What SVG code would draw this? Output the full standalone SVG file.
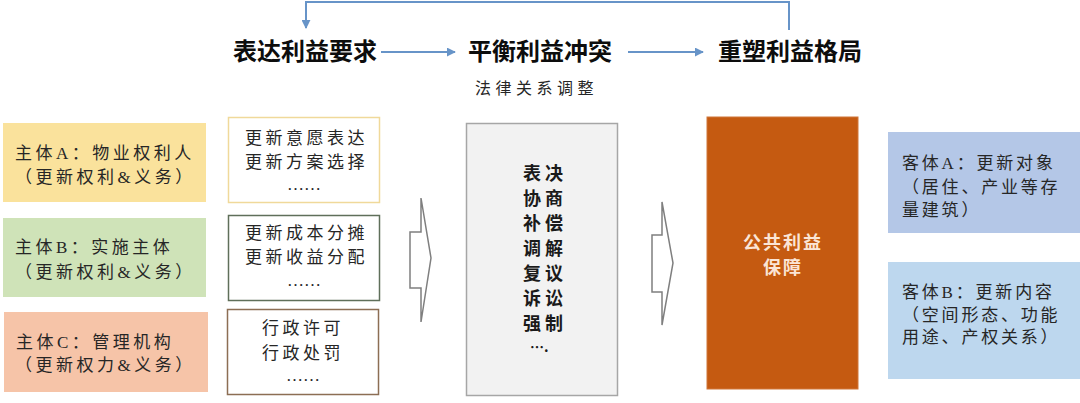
<svg xmlns="http://www.w3.org/2000/svg" width="1080" height="403" viewBox="0 0 1080 403">
<defs>
<style>
.t{font-family:"Liberation Serif","Noto Sans CJK SC",serif;font-size:17px;fill:#262626;letter-spacing:3.5px}
.r{letter-spacing:2.8px}
.h{font-family:"Noto Sans CJK SC","Liberation Sans",sans-serif;font-size:24px;font-weight:bold;fill:#0d0d0d}
.c{font-family:"Noto Sans CJK SC","Liberation Serif",serif;font-size:18px;font-weight:bold;fill:#1a1a1a;letter-spacing:4px}
.conn{fill:none;stroke:#6794c8;stroke-width:2}
.blk{fill:#ffffff;stroke:#7f7f7f;stroke-width:1.5}
</style>
<marker id="ah" viewBox="0 0 10 10" refX="9" refY="5" markerWidth="4.5" markerHeight="4.5" orient="auto" markerUnits="strokeWidth">
<path d="M0,0 L10,5 L0,10 z" fill="#6794c8"/>
</marker>
</defs>
<rect width="1080" height="403" fill="#ffffff"/>

<g id="connectors">
<path class="conn" d="M789,30 L789,2 L306,2 L306,28" marker-end="url(#ah)"/>
<path class="conn" d="M381,52 L455,52" marker-end="url(#ah)"/>
<path class="conn" d="M628,52 L703,52" marker-end="url(#ah)"/>
<polygon id="blockArrow1" class="blk" points="421,198 431,258 421,322 421,288 410,288 410,232 421,232"/>
<polygon id="blockArrow2" class="blk" points="662,202 673,263 662,325 662,292 652,292 652,235 662,235"/>
</g>

<g id="stage1"><text class="h" x="233" y="60">表达利益要求</text></g>
<g id="stage2"><text class="h" x="468" y="60">平衡利益冲突</text>
<text class="t" x="475" y="94" style="font-size:16px;letter-spacing:4.5px">法律关系调整</text></g>
<g id="stage3"><text class="h" x="718" y="60">重塑利益格局</text></g>

<g id="subjectA">
<rect x="3" y="123" width="203" height="79" fill="#fae29c"/>
<text class="t" x="15" y="159">主体A：物业权利人</text>
<text class="t" x="15" y="183">（更新权利&amp;义务）</text>
</g>
<g id="subjectB">
<rect x="3" y="218" width="203" height="79" fill="#cfe3b8"/>
<text class="t" x="15" y="253">主体B：实施主体</text>
<text class="t" x="15" y="278">（更新权利&amp;义务）</text>
</g>
<g id="subjectC">
<rect x="4" y="312" width="204" height="80" fill="#f6c4a8"/>
<text class="t" x="16" y="348">主体C：管理机构</text>
<text class="t" x="15" y="371">（更新权力&amp;义务）</text>
</g>

<g id="itemsA">
<rect x="228.5" y="117.5" width="151" height="85" fill="#ffffff" stroke="#f0d99a" stroke-width="1.5"/>
<text class="t" x="245" y="144">更新意愿表达</text>
<text class="t" x="245" y="168">更新方案选择</text>
<text class="t" x="287" y="190" style="letter-spacing:0">……</text>
</g>
<g id="itemsB">
<rect x="228.5" y="215.5" width="151" height="85" fill="#ffffff" stroke="#5f6f5a" stroke-width="1.5"/>
<text class="t" x="245" y="239">更新成本分摊</text>
<text class="t" x="245" y="263">更新收益分配</text>
<text class="t" x="287" y="286" style="letter-spacing:0">……</text>
</g>
<g id="itemsC">
<rect x="227.5" y="309.5" width="151" height="85" fill="#ffffff" stroke="#8c6e54" stroke-width="1.5"/>
<text class="t" x="262" y="334">行政许可</text>
<text class="t" x="262" y="359">行政处罚</text>
<text class="t" x="286" y="381" style="letter-spacing:0">……</text>
</g>

<g id="methods">
<rect x="466.5" y="123.5" width="151" height="272" fill="#f2f2f2" stroke="#a6a6a6" stroke-width="1.5"/>
<text class="c" x="523" y="180">表决</text>
<text class="c" x="523" y="205">协商</text>
<text class="c" x="523" y="230">补偿</text>
<text class="c" x="523" y="255">调解</text>
<text class="c" x="523" y="280">复议</text>
<text class="c" x="523" y="305">诉讼</text>
<text class="c" x="523" y="330">强制</text>
<text class="c" x="530" y="352" style="letter-spacing:0;font-size:14px">….</text>
</g>

<g id="publicInterest">
<rect x="707" y="117" width="151" height="272" fill="#c55a11" stroke="#d0773a" stroke-width="1"/>
<text class="c" x="743" y="249" style="fill:#fbe5d6;letter-spacing:2px">公共利益</text>
<text class="c" x="763" y="274" style="fill:#fbe5d6;letter-spacing:2px">保障</text>
</g>

<g id="objectA">
<rect x="888" y="132" width="192" height="101" fill="#b4c7e7"/>
<text class="t r" x="902" y="169">客体A：更新对象</text>
<text class="t r" x="902" y="193">（居住、产业等存</text>
<text class="t r" x="902" y="216">量建筑）</text>
</g>
<g id="objectB">
<rect x="888" y="262" width="192" height="117" fill="#bdd7ee"/>
<text class="t r" x="902" y="298">客体B：更新内容</text>
<text class="t r" x="902" y="321">（空间形态、功能</text>
<text class="t r" x="902" y="343">用途、产权关系）</text>
</g>
</svg>
